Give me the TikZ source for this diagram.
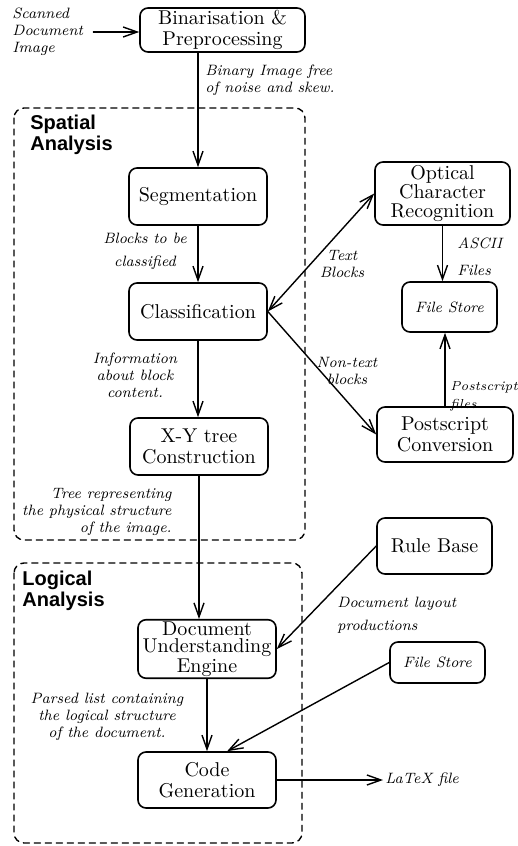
\documentclass[tikz,border=0pt]{standalone}
\usepackage{fontspec}
\newfontfamily\headfont{Liberation Sans}
\usetikzlibrary{arrows.meta}

\begin{document}
\begin{tikzpicture}[x=0.5pt, y=-0.5pt, line join=round, line cap=round,
    box/.style={draw, line width=0.8pt, rounded corners=4pt, align=center, inner sep=1pt,
        font=\fontsize{10}{10.5}\selectfont},
    note/.style={font=\fontsize{7.5}{8.5}\selectfont\itshape, inner sep=1pt},
    frame/.style={draw, dash pattern=on 3pt off 2.5pt, line width=0.7pt, rounded corners=5pt},
    arr/.style={line width=0.7pt, -{Straight Barb[length=7pt,width=5pt]}},
    head/.style={font=\headfont\bfseries\fontsize{10}{10.5}\selectfont, align=left, inner sep=0pt}]

    \useasboundingbox (0,0) rectangle (518,846);

    % the two analysis stages
    \draw[frame] (14,108) rectangle (305,540);
    \draw[frame] (14,563) rectangle (302,843);
    \node[head, anchor=north west] (spatial) at (30,115) {Spatial\\Analysis};
    \node[head, anchor=north west] (logical) at (22,571) {Logical\\Analysis};

    % main chain
    \node[box, minimum width=82.5pt, minimum height=22pt] (bin) at (222.5,30) {Binarisation \&\\Preprocessing};
    \node[box, minimum width=69pt, minimum height=28.5pt] (seg) at (198,196.5) {Segmentation};
    \node[box, minimum width=69pt, minimum height=28.5pt] (cls) at (198,311.5) {Classification};
    \node[box, minimum width=69pt, minimum height=28.5pt] (xy) at (199,446.5) {X-Y tree\\Construction};
    \node[box, minimum width=69pt, minimum height=29pt, font=\fontsize{10}{8.5}\selectfont] (due) at (207,649) {Document\\Understanding\\Engine};
    \node[box, minimum width=69pt, minimum height=28pt] (code) at (207,780) {Code\\Generation};

    % right hand side
    \node[box, minimum width=67.5pt, minimum height=31.5pt, font=\fontsize{10}{9.5}\selectfont] (ocr) at (442.5,193.5) {Optical\\Character\\Recognition};
    \node[box, minimum width=47.5pt, minimum height=25pt, font=\fontsize{7.5}{8.5}\selectfont\itshape] (fsa) at (449.5,307) {File Store};
    \node[box, minimum width=68pt, minimum height=27.5pt] (ps) at (445,434.5) {Postscript\\Conversion};
    \node[box, minimum width=57.5pt, minimum height=28pt] (rule) at (434.5,546) {Rule Base};
    \node[box, minimum width=47.5pt, minimum height=20.5pt, font=\fontsize{7.5}{8.5}\selectfont\itshape] (fsb) at (437.5,662.5) {File Store};

    % labels
    \node[note, align=left, anchor=west] (scan) at (10,32) {Scanned\\Document\\Image};
    \node[note, align=left, anchor=west] (bimg) at (203,80) {Binary Image free\\of noise and skew.};
    \node[note, align=center] (blk) at (145,251) {Blocks to be\\[3pt]classified};
    \node[note, align=center] (info) at (135,375) {Information\\about block\\content.};
    \node[note, align=right, anchor=east] (tree) at (174,512) {Tree representing\\the physical structure\\of the image.};
    \node[note, align=center] (txt) at (342,264) {Text\\Blocks};
    \node[note, align=center] (ntxt) at (347,371) {Non-text\\blocks};
    \node[note, align=left, anchor=west] (ascii) at (455,257) {ASCII\\[5pt]Files};
    \node[note, align=left, anchor=west, inner sep=0.5pt, font=\fontsize{6.5}{7.5}\selectfont\itshape] (psf) at (449,396) {Postscript\\[1.5pt]files};
    \node[note, align=left, anchor=west] (lay) at (335,615) {Document layout\\[3pt]productions};
    \node[note, align=center] (parsed) at (107,717) {Parsed list containing\\the logical structure\\of the document.};
    \node[note, anchor=west] (latex) at (383,780) {LaTeX file};

    % connectors
    \draw[arr, shorten <=4pt] (scan.east) -- (scan.east -| bin.west);
    \draw[arr] (seg.north |- bin.south) -- (seg);
    \draw[arr] (seg) -- (cls);
    \draw[arr] (cls.south) -- (cls.south |- xy.north);
    \draw[arr] (xy.south) -- (xy.south |- due.north);
    \draw[arr] (due) -- (code);
    \draw[arr, {Straight Barb[length=7pt,width=5pt]}-{Straight Barb[length=7pt,width=5pt]}] (cls.east) -- (ocr.west);
    \draw[arr] (cls.east) -- (ps.west);
    \draw[arr] (ocr.south) -- (ocr.south |- fsa.north);
    \draw[arr] (ps.north) -- (ps.north |- fsa.south);
    \draw[arr] (rule.west) -- (due.east);
    \draw[arr] (fsb.west) -- (code.55);
    \draw[arr] (code.east) -- (latex.west);
\end{tikzpicture}
\end{document}
